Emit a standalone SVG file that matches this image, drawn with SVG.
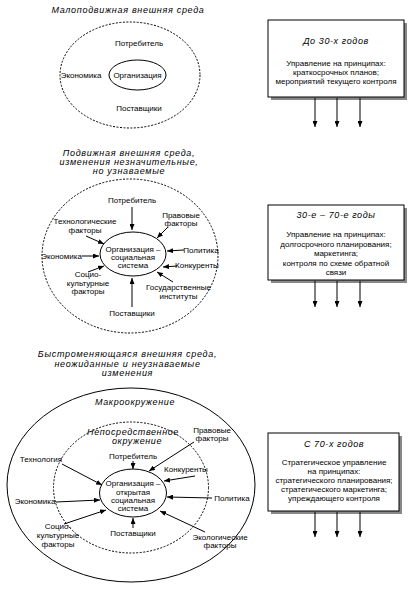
<svg xmlns="http://www.w3.org/2000/svg" width="417" height="590" viewBox="0 0 417 590">
<style>
text{font-family:"Liberation Sans",Arial,sans-serif;font-size:8px;fill:#000;text-anchor:middle}
.t{font-size:9px;font-style:italic;letter-spacing:0.7px}
.ti{font-size:9px;font-style:italic;letter-spacing:0.6px}
.dash{fill:none;stroke:#000;stroke-width:1;stroke-dasharray:2,1.5}
.sol{fill:none;stroke:#000;stroke-width:1}
.box{fill:#fff;stroke:#000;stroke-width:1}
.sh{fill:#888}
.c line{stroke:#000;stroke-width:1;marker-end:url(#ah)}
</style>
<defs>
<marker id="ah" viewBox="0 0 6 5" refX="6" refY="2.5" markerWidth="6" markerHeight="5" markerUnits="userSpaceOnUse" orient="auto">
<path d="M0,0 L6,2.5 L0,5 z" fill="#000"/>
</marker>
</defs>

<!-- Section 1 -->
<g id="s1">
<text class="t" x="128" y="13">Малоподвижная внешняя среда</text>
<ellipse class="dash" cx="130" cy="75" rx="70" ry="53"/>
<ellipse class="sol" cx="137.5" cy="75" rx="28.5" ry="15"/>
<text x="137.5" y="78">Организация</text>
<text x="139" y="46">Потребитель</text>
<text x="81" y="78">Экономика</text>
<text x="139" y="111">Поставщики</text>
</g>
<g id="box1">
<rect class="sh" x="271" y="23" width="136" height="77"/>
<rect class="box" x="268" y="20" width="136" height="77"/>
<text class="ti" x="336" y="44">До 30-х годов</text>
<text x="336" y="65.5">Управление на принципах:</text>
<text x="336" y="74.5">краткосрочных планов;</text>
<text x="336" y="83.5">мероприятий текущего контроля</text>
</g>

<!-- Section 2 -->
<g id="s2">
<text class="t" x="129" y="156">Подвижная внешняя среда,</text>
<text class="t" x="129" y="165">изменения незначительные,</text>
<text class="t" x="129" y="174">но узнаваемые</text>
<ellipse class="dash" cx="130" cy="256" rx="88" ry="77"/>
<ellipse class="sol" cx="133" cy="254" rx="33" ry="22"/>
<text x="133" y="252">Организация –</text>
<text x="133" y="260">социальная</text>
<text x="133" y="268">система</text>
<text x="132" y="203">Потребитель</text>
<text x="181" y="218">Правовые</text>
<text x="181" y="226">факторы</text>
<text x="85" y="224">Технологические</text>
<text x="85" y="233">факторы</text>
<text x="201" y="253">Политика</text>
<text x="61.5" y="259">Экономика</text>
<text x="197" y="268">Конкуренты</text>
<text x="88" y="277">Социо-</text>
<text x="88" y="285.5">культурные</text>
<text x="88" y="294">факторы</text>
<text x="178.5" y="290">Государственные</text>
<text x="178.5" y="299">институты</text>
<text x="132" y="316">Поставщики</text>
</g>
<g id="box2">
<rect class="sh" x="271" y="208" width="136" height="75"/>
<rect class="box" x="268" y="205" width="136" height="75"/>
<text class="ti" x="336" y="218">30-е – 70-е годы</text>
<text x="336" y="237">Управление на принципах:</text>
<text x="336" y="246.5">долгосрочного планирования;</text>
<text x="336" y="256">маркетинга;</text>
<text x="336" y="265.5">контроля по схеме обратной</text>
<text x="336" y="275">связи</text>
</g>

<!-- Section 3 -->
<g id="s3">
<text class="t" x="127.5" y="357">Быстроменяющаяся внешняя среда,</text>
<text class="t" x="127.5" y="366.5">неожиданные и неузнаваемые</text>
<text class="t" x="127.5" y="375.5">изменения</text>
<ellipse class="sol" cx="131" cy="485" rx="124" ry="97"/>
<text class="ti" x="135" y="405">Макроокружение</text>
<ellipse class="dash" cx="131" cy="487.5" rx="77.5" ry="65.5"/>
<text class="ti" x="133" y="435">Непосредственное</text>
<text class="ti" x="137" y="444">окружение</text>
<ellipse class="sol" cx="133" cy="493" rx="33.5" ry="24"/>
<text x="133" y="486">Организация –</text>
<text x="133" y="494.5">открытая</text>
<text x="133" y="503">социальная</text>
<text x="133" y="511">система</text>
<text x="133" y="459">Потребитель</text>
<text x="133" y="536">Поставщики</text>
<text x="41" y="462">Технология</text>
<text x="35" y="504">Экономика</text>
<text x="58" y="529">Социо-</text>
<text x="58" y="538">культурные</text>
<text x="58" y="547">факторы</text>
<text x="212" y="433">Правовые</text>
<text x="212" y="441">факторы</text>
<text x="186" y="472">Конкуренты</text>
<text x="232" y="501">Политика</text>
<text x="220" y="540">Экологические</text>
<text x="220" y="548">факторы</text>
</g>
<g id="box3">
<rect class="sh" x="271" y="436" width="131" height="78"/>
<rect class="box" x="268" y="433" width="131" height="78"/>
<text class="ti" x="334" y="447">С 70-х годов</text>
<text x="334" y="464.5">Стратегическое управление</text>
<text x="334" y="473.5">на принципах:</text>
<text x="334" y="482.5">стратегического планирования;</text>
<text x="334" y="491.5">стратегического маркетинга;</text>
<text x="334" y="500.5">упреждающего контроля</text>
</g>

<g id="connectors" class="c">
<line x1="315" y1="98" x2="315" y2="127"/>
<line x1="337" y1="98" x2="337" y2="127"/>
<line x1="360" y1="98" x2="360" y2="127"/>
<line x1="315" y1="281" x2="315" y2="307"/>
<line x1="337" y1="281" x2="337" y2="307"/>
<line x1="360" y1="281" x2="360" y2="307"/>
<line x1="315" y1="512" x2="315" y2="537"/>
<line x1="337" y1="512" x2="337" y2="537"/>
<line x1="360" y1="512" x2="360" y2="537"/>

<line x1="132" y1="207" x2="132" y2="230"/>
<line x1="168" y1="227" x2="157" y2="238"/>
<line x1="86" y1="236" x2="104" y2="244"/>
<line x1="184" y1="250" x2="167" y2="251"/>
<line x1="82" y1="256" x2="99" y2="256"/>
<line x1="177" y1="266" x2="163" y2="267"/>
<line x1="88" y1="272" x2="104" y2="266"/>
<line x1="173" y1="282" x2="157" y2="272"/>
<line x1="132" y1="307" x2="132" y2="278"/>

<line x1="133" y1="461" x2="133" y2="469"/>
<line x1="133" y1="528" x2="133" y2="518"/>
<line x1="62" y1="464" x2="102" y2="485"/>
<line x1="56" y1="502" x2="100" y2="500"/>
<line x1="64" y1="524" x2="106" y2="510"/>
<line x1="194" y1="442" x2="149" y2="471"/>
<line x1="195" y1="476" x2="164" y2="481"/>
<line x1="212" y1="498" x2="167" y2="497"/>
<line x1="205" y1="532" x2="160" y2="511"/>
</g>
</svg>
